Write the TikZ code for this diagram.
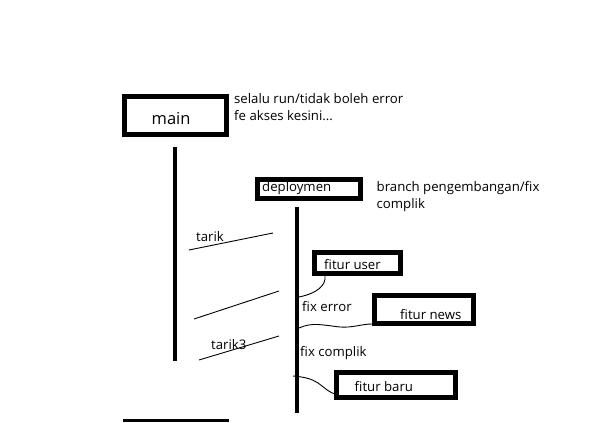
\documentclass[tikz,border=0pt]{standalone}
\usepackage{fontspec}
\setmainfont{Open Sans}
\begin{document}
\begin{tikzpicture}[x=1pt,y=-1pt,
  box/.style={draw=black,line width=5pt,inner sep=0pt},
  txt/.style={anchor=base west,inner sep=0pt,font=\fontsize{13.2}{15}\selectfont},
  branch/.style={line width=4pt},
  thin/.style={line width=0.9pt}]
\useasboundingbox (0,0) rectangle (600,423);
% boxes
\node[box,minimum width=102pt,minimum height=38pt] (mainbox) at (175.5,115.5) {};
\node[box,minimum width=102.5pt,minimum height=19.5pt] (depbox) at (308.75,188.75) {};
\node[box,minimum width=86pt,minimum height=21pt] (userbox) at (357.5,263) {};
\node[box,minimum width=99pt,minimum height=28pt] (newsbox) at (424,309.5) {};
\node[box,minimum width=119pt,minimum height=25pt] (barubox) at (396,385) {};
% texts
\node[txt,font=\fontsize{16.5}{18}\selectfont] (tmain) at (151.5,124) {main};
\node[txt] (t1) at (234,103) {selalu run/tidak boleh error};
\node[txt] (t2) at (234,120) {fe akses kesini...};
\node[txt] (tdep) at (262,191) {deploymen};
\node[txt] (t3) at (376.5,191.5) {branch pengembangan/fix};
\node[txt] (t4) at (376.5,208) {complik};
\node[txt] (ttarik) at (196,241.5) {tarik};
\node[txt] (tuser) at (324,269) {fitur user};
\node[txt] (tfe) at (302,311.5) {fix error};
\node[txt] (tnews) at (400,319.5) {fitur news};
\node[txt] (ttarik3) at (211,349.5) {tarik3};
\node[txt] (tfc) at (300,356.5) {fix complik};
\node[txt] (tbaru) at (354.5,391.5) {fitur baru};
% branch lines
\coordinate (m1) at (175,147);
\coordinate (m2) at (175,361);
\coordinate (d1) at (297,207);
\coordinate (d2) at (297,413);
\coordinate (b1) at (123,420);
\coordinate (b2) at (229,420);
\draw[branch] (m1) -- (m2);
\draw[branch] (d1) -- (d2);
\draw[line width=3pt] (b1) -- (b2);
% pull lines
\coordinate (p1a) at (189,250);
\coordinate (p1b) at (273,233);
\coordinate (p2a) at (194,319);
\coordinate (p2b) at (279,291);
\coordinate (p3a) at (199,360);
\coordinate (p3b) at (279,336);
\draw[thin] (p1a) -- (p1b);
\draw[thin] (p2a) -- (p2b);
\draw[thin] (p3a) -- (p3b);
% feature connectors
\coordinate (cu) at (299,297);
\coordinate (cn) at (299,328);
\coordinate (cb) at (293,376);
\draw[thin] (cu) .. controls (318,293) and (326,285) .. (325,276);
\draw[thin] (cn) .. controls (312,322) and (322,325) .. (340,327) .. controls (352,328) and (362,324) .. (372,324);
\draw[thin] (cb) .. controls (305,377) and (312,379) .. (318,383) .. controls (325,388) and (330,393) .. (335,394);
\end{tikzpicture}
\end{document}
